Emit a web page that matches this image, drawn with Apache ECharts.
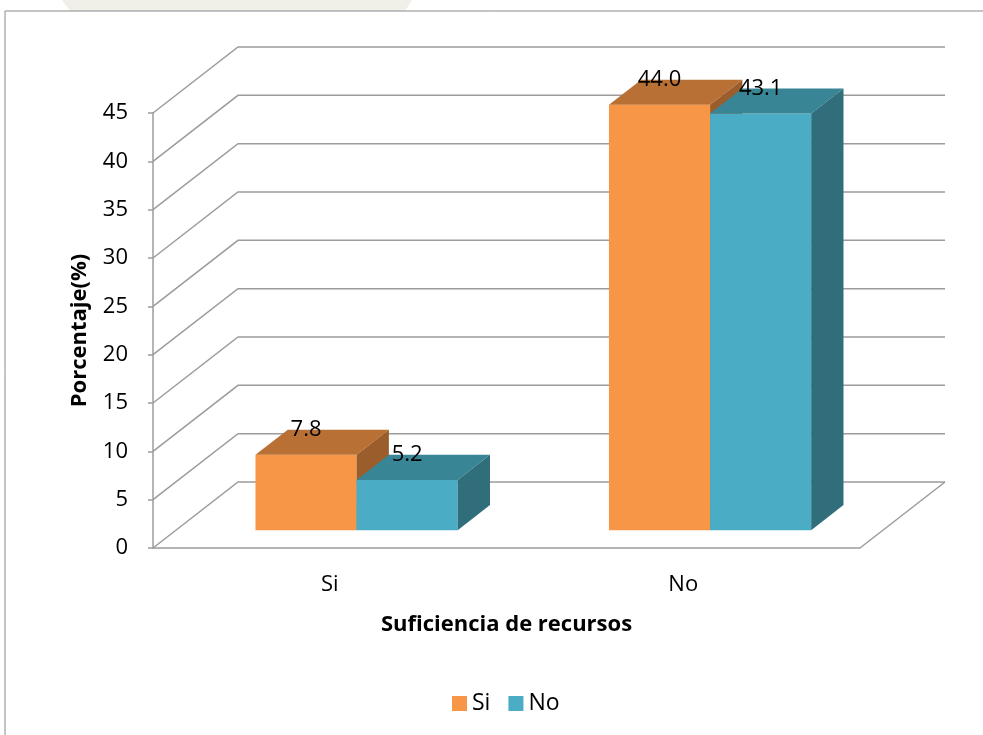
<!DOCTYPE html>
<html>
<head>
<meta charset="utf-8">
<script src="https://cdn.jsdelivr.net/npm/echarts/dist/echarts.min.js"></script>
<style>
  html, body { margin: 0; padding: 0; background: #ffffff; }
  #chart { width: 983px; height: 735px; }
</style>
</head>
<body>
<div id="chart"></div>
<script>
// Data
const categories = ['Si', 'No'];
const seriesNames = ['Si', 'No'];
const valuesSi = [7.8, 44.0];
const valuesNo = [5.2, 43.1];
const yTicks = [0, 5, 10, 15, 20, 25, 30, 35, 40, 45];

// Styling
const FONT = '"Open Sans", "Liberation Sans", sans-serif';
const GRID_COLOR = '#9c9c9c';
const DEPTH_X = 85, DEPTH_Y = -66;        // depth of the floor / side wall
const BAR_FRONT = 0.27, BAR_DEPTH = 0.38; // bar placement within the depth
const BAR_W = 0.286, BAR_OFF = -0.275;    // bar width / offset as band fractions
const palette = [
  { front: '#F79646', top: '#B97034', side: '#9B5D2B' },
  { front: '#4BACC6', top: '#388596', side: '#316E7C' }
];

// Back walls: one bent gridline per tick, plus the right floor edge
function renderWalls(params, api) {
  const cs = params.coordSys;
  const v = api.value(1);
  const y = api.coord([0, v])[1];
  const xL = cs.x, xR = cs.x + cs.width;
  const style = { stroke: GRID_COLOR, lineWidth: 1.5, fill: null };
  const children = [{
    type: 'polyline',
    shape: { points: [[xL, y], [xL + DEPTH_X, y + DEPTH_Y], [xR + DEPTH_X, y + DEPTH_Y]] },
    style: style
  }];
  if (v === 0) {
    children.push({
      type: 'line',
      shape: { x1: xR + DEPTH_X, y1: y + DEPTH_Y, x2: xR, y2: y },
      style: style
    });
  }
  return { type: 'group', children: children };
}

// 3D box for one bar
function makeBoxRenderer(k) {
  const col = palette[k];
  return function (params, api) {
    const i = api.value(0);
    const v = api.value(1);
    const c = api.coord([i, 0]);
    const band = api.size([1, 0])[0];
    const sx = BAR_FRONT * DEPTH_X, sy = BAR_FRONT * DEPTH_Y;
    const bdx = BAR_DEPTH * DEPTH_X, bdy = BAR_DEPTH * DEPTH_Y;
    const x0 = c[0] + (BAR_OFF + k * BAR_W) * band + sx;
    const x1 = x0 + BAR_W * band;
    const yBase = c[1] + sy;
    const yTop = api.coord([i, v])[1] + sy;
    return {
      type: 'group',
      children: [
        { type: 'rect', shape: { x: x0, y: yTop, width: x1 - x0, height: yBase - yTop },
          style: { fill: col.front } },
        { type: 'polygon', shape: { points: [[x0, yTop], [x1, yTop], [x1 + bdx, yTop + bdy], [x0 + bdx, yTop + bdy]] },
          style: { fill: col.top } },
        { type: 'polygon', shape: { points: [[x1, yTop], [x1, yBase], [x1 + bdx, yBase + bdy], [x1 + bdx, yTop + bdy]] },
          style: { fill: col.side } },
        { type: 'text', x: (x0 + x1) / 2, y: yTop + bdy,
          style: { text: v.toFixed(1), fill: '#000', font: '22px ' + FONT, align: 'center', verticalAlign: 'middle' } }
      ]
    };
  };
}

const chart = echarts.init(document.getElementById('chart'), null, { renderer: 'canvas' });
chart.setOption({
  animation: false,
  backgroundColor: '#ffffff',
  graphic: [
    // faint page watermark above the chart frame
    { type: 'polygon', shape: { points: [[62, 0], [412, 0], [405, 11], [70, 11]] },
      style: { fill: '#f0efe8' }, z: -11 },
    { type: 'rect', shape: { x: 5, y: 11, width: 1000, height: 800 },
      style: { fill: null, stroke: '#8a8a8a', lineWidth: 1 }, z: -10 }
  ],
  grid: { left: 153, right: 123, top: 113, bottom: 187 },
  legend: {
    data: seriesNames,
    bottom: 15,
    left: 447,
    icon: 'rect',
    itemWidth: 15,
    itemHeight: 15,
    itemGap: 18,
    textStyle: { fontFamily: FONT, fontSize: 23, color: '#000' }
  },
  xAxis: {
    type: 'category',
    data: categories,
    name: 'Suficiencia de recursos',
    nameLocation: 'middle',
    nameGap: 66,
    nameTextStyle: { fontFamily: FONT, fontSize: 22, fontWeight: 'bold', color: '#000' },
    axisLine: { lineStyle: { color: GRID_COLOR, width: 1.5 } },
    axisTick: { length: 8, lineStyle: { color: GRID_COLOR, width: 1.5 } },
    axisLabel: { margin: 26, fontFamily: FONT, fontSize: 22, color: '#000' }
  },
  yAxis: {
    type: 'value',
    min: 0,
    max: 45,
    interval: 5,
    name: 'Porcentaje(%)',
    nameLocation: 'middle',
    nameGap: 62,
    nameTextStyle: { fontFamily: FONT, fontSize: 22, fontWeight: 'bold', color: '#000' },
    axisLine: { show: true, lineStyle: { color: GRID_COLOR, width: 1.5 } },
    axisTick: { show: true, length: 5, lineStyle: { color: GRID_COLOR, width: 1.5 } },
    axisLabel: { margin: 25, fontFamily: FONT, fontSize: 22, color: '#000' },
    splitLine: { show: false }
  },
  series: [
    {
      type: 'custom', name: 'walls', renderItem: renderWalls, clip: false, silent: true, z: 1,
      data: yTicks.map(t => [0, t])
    },
    {
      type: 'custom', name: seriesNames[0], renderItem: makeBoxRenderer(0), clip: false, z: 2,
      itemStyle: { color: palette[0].front },
      data: valuesSi.map((v, i) => [i, v])
    },
    {
      type: 'custom', name: seriesNames[1], renderItem: makeBoxRenderer(1), clip: false, z: 3,
      itemStyle: { color: palette[1].front },
      data: valuesNo.map((v, i) => [i, v])
    }
  ]
});
</script>
</body>
</html>
